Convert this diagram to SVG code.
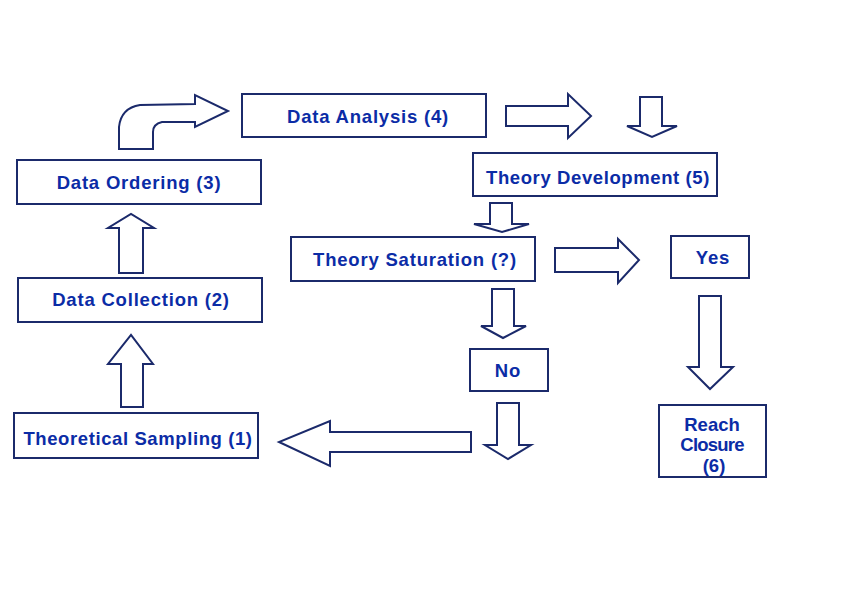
<svg xmlns="http://www.w3.org/2000/svg" width="850" height="589" viewBox="0 0 850 589">
<style>
.box{fill:#fff;stroke:#1b2a6b;stroke-width:2}
.arr{fill:#fff;stroke:#1b2a6b;stroke-width:2;stroke-linejoin:miter}
.t{font-family:"Liberation Sans",Arial,sans-serif;font-weight:bold;font-size:18.5px;fill:#0b2ca6;text-anchor:middle;letter-spacing:0.8px}
</style>
<rect width="850" height="589" fill="#fff"/>
<g id="connectors">
<path class="arr" d="M119,149 L119,127 Q121,108 140,105 L195,104 L195,95 L228,111 L195,127 L195,122 L162,122 Q153,124 153,132 L153,149 Z"/>
<path class="arr" d="M506,106 L568,106 L568,94 L591,116 L568,138 L568,126 L506,126 Z"/>
<path class="arr" d="M640,97 L662,97 L662,126 L677,126 L652,137 L627,126 L640,126 Z"/>
<path class="arr" d="M490,203 L512,203 L512,224 L529,224 L502,232 L474,224 L490,224 Z"/>
<path class="arr" d="M555,248 L618,248 L618,239 L639,260 L618,283 L618,272 L555,272 Z"/>
<path class="arr" d="M492,289 L514,289 L514,326 L526,326 L503,338 L481,326 L492,326 Z"/>
<path class="arr" d="M497,403 L519,403 L519,445 L531,445 L508,459 L485,445 L497,445 Z"/>
<path class="arr" d="M699,296 L721,296 L721,367 L733,367 L710,389 L688,367 L699,367 Z"/>
<path class="arr" d="M471,432 L330,432 L330,421 L279,442 L330,466 L330,452 L471,452 Z"/>
<path class="arr" d="M119,273 L143,273 L143,228 L154,228 L131,214 L108,228 L119,228 Z"/>
<path class="arr" d="M121,407 L143,407 L143,364 L153,364 L131,335 L108,364 L121,364 Z"/>
</g>
<g id="data-analysis"><rect class="box" x="242" y="94" width="244" height="43"/><text class="t" x="368" y="123">Data Analysis (4)</text></g>
<g id="data-ordering"><rect class="box" x="17" y="160" width="244" height="44"/><text class="t" x="139" y="189">Data Ordering (3)</text></g>
<g id="data-collection"><rect class="box" x="18" y="278" width="244" height="44"/><text class="t" x="141" y="306">Data Collection (2)</text></g>
<g id="theoretical-sampling"><rect class="box" x="14" y="413" width="244" height="45"/><text class="t" x="138" y="445" style="letter-spacing:0.6px">Theoretical Sampling (1)</text></g>
<g id="theory-development"><rect class="box" x="473" y="153" width="244" height="43"/><text class="t" x="598" y="184" style="letter-spacing:0.6px">Theory Development (5)</text></g>
<g id="theory-saturation"><rect class="box" x="291" y="237" width="244" height="44"/><text class="t" x="415" y="266">Theory Saturation (?)</text></g>
<g id="yes"><rect class="box" x="671" y="236" width="78" height="42"/><text class="t" x="713" y="264">Yes</text></g>
<g id="no"><rect class="box" x="470" y="349" width="78" height="42"/><text class="t" x="508" y="377">No</text></g>
<g id="reach-closure"><rect class="box" x="659" y="405" width="107" height="72"/><text class="t" x="712" y="431" style="letter-spacing:0">Reach</text><text class="t" x="712" y="451" style="letter-spacing:-0.8px">Closure</text><text class="t" x="714" y="472" style="letter-spacing:0">(6)</text></g>
</svg>
